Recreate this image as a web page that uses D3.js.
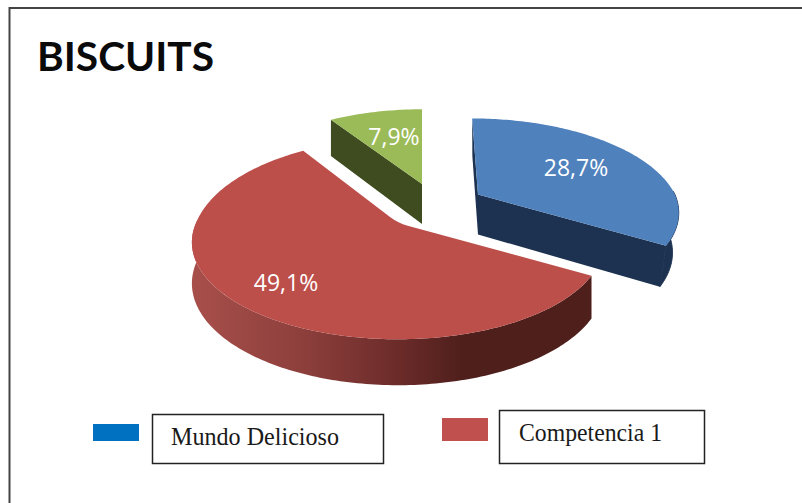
<!DOCTYPE html>
<html>
<head>
<meta charset="utf-8">
<title>BISCUITS</title>
<script src="https://cdn.jsdelivr.net/npm/d3@7"></script>
<style>
  html, body { margin: 0; padding: 0; background: #fff; }
  svg { display: block; }
</style>
</head>
<body>
<svg id="chart" width="802" height="503"></svg>
<script>
// Chart content
const chartTitle = "BISCUITS";
const sliceNames = ["Mundo Delicioso", "Competencia 1", "Otros"];
const sliceShares = [28.7, 49.1, 7.9];
const legendNames = ["Mundo Delicioso", "Competencia 1"];

// Slice styling, in slice order
const topColors = ["#4f81bd", "#bd4f4b", "#9bbb59"];
const cutColors = ["#1d3250", "#4f1f1c", "#3f4c1f"];
const legendColors = ["#0070c0", "#c0504d"];

// Where each pulled-out slice has its tip on the page, and its size
const sliceTips = [[478, 194.5], [398, 223], [422, 184]];
const sliceScale = [0.97, 0.995, 0.95];
const backLean = [6, 0, 0];
const backStretch = [1, 1.08, 1];
const wallTaper = [0.97, 1, 1];
const tipRounding = [0, 10, 0];
const labelSpots = [[576, 167], [286, 282], [394, 136]];

const svg = d3.select("#chart");

// Perspective of the tilted pie: nearer points spread out and drop lower
const spreadX = 203, spreadY = 93.6, tilt = 0.2, wallHeight = 40;

function project(i, angle, radius, lifted) {
  const tip = sliceTips[i];
  const scale = sliceScale[i] * (lifted ? 1 : wallTaper[i]);
  const u = Math.sin(angle) * radius * scale;
  const v = -Math.cos(angle) * radius * scale;
  const w = 1 - tilt * v;
  const drop = lifted ? 0 : wallHeight / (1 - 0.13 * v);
  const stretch = v < 0 ? backStretch[i] : 1;
  return [tip[0] + spreadX * u / w + backLean[i] * Math.min(v, 0),
          tip[1] + spreadY * stretch * v / w + drop];
}

const arcs = d3.pie().sort(null).value(d => d)(sliceShares);
const poly = d3.line();
const degree = Math.PI / 180;

function rimAngles(a0, a1) {
  const steps = Math.max(2, Math.ceil((a1 - a0) / degree));
  return d3.range(steps + 1).map(i => a0 + (a1 - a0) * i / steps);
}

// Which cut faces and how much of the outer wall turn towards the viewer
const visibleCuts = [a => [a.startAngle, a.endAngle], () => [], a => [a.startAngle]];
const wallSpans = [a => [88 * degree, a.endAngle], a => [a.startAngle, 272 * degree], () => null];

// Shading along the outer wall of the large slice
const defs = svg.append("defs");
const wallShade = defs.append("linearGradient")
  .attr("id", "wallShade")
  .attr("gradientUnits", "userSpaceOnUse")
  .attr("x1", 192).attr("x2", 590).attr("y1", 0).attr("y2", 0);
[[0, "#a84f4b"], [0.28, "#8d3f3c"], [0.52, "#6b2b29"], [0.68, "#4f1f1c"], [1, "#4f1f1c"]]
  .forEach(([o, c]) => wallShade.append("stop").attr("offset", o).attr("stop-color", c));

// Frame, open on the right and at the bottom
svg.append("path")
  .attr("d", "M9.5,503V8H802")
  .attr("fill", "none")
  .attr("stroke", "#444")
  .attr("stroke-width", 2);

svg.append("text")
  .attr("x", 37).attr("y", 71)
  .attr("font-family", "Lato, 'Open Sans', sans-serif")
  .attr("font-weight", 700)
  .attr("font-size", 40)
  .attr("textLength", 177)
  .attr("lengthAdjust", "spacingAndGlyphs")
  .attr("fill", "#0a0a0a")
  .text(chartTitle);

const drawOrder = [2, 0, 1];
const pie = svg.append("g");

drawOrder.forEach(i => {
  const a = arcs[i];
  const g = pie.append("g").attr("class", "slice").attr("data-name", sliceNames[i]);
  const top = (ang, r) => project(i, ang, r, true);
  const low = (ang, r) => project(i, ang, r, false);

  const span = wallSpans[i](a);
  if (span) {
    const rim = rimAngles(span[0], span[1]);
    const wall = i === 1 ? "url(#wallShade)" : cutColors[i];
    g.append("path")
      .attr("d", poly([...rim.map(t => top(t, 1)), ...rim.slice().reverse().map(t => low(t, 1))]) + "Z")
      .attr("fill", wall)
      .attr("stroke", i === 1 ? "none" : wall)
      .attr("stroke-width", 1);
  }

  visibleCuts[i](a).forEach(ang => {
    g.append("path")
      .attr("d", poly([top(ang, 0), top(ang, 1), low(ang, 1), low(ang, 0)]) + "Z")
      .attr("fill", cutColors[i]);
  });

  // Top surface
  const rim = rimAngles(a.startAngle, a.endAngle).map(t => top(t, 1));
  const apex = top(0, 0);
  const round = tipRounding[i];
  let d = poly(rim);
  if (round) {
    const lerp = (p, q, t) => p[0] + (q[0] - p[0]) * t + "," + (p[1] + (q[1] - p[1]) * t);
    const first = rim[0], last = rim[rim.length - 1];
    const lenA = Math.hypot(last[0] - apex[0], last[1] - apex[1]);
    const lenB = Math.hypot(first[0] - apex[0], first[1] - apex[1]);
    d += "L" + lerp(apex, last, round / lenA) +
         "Q" + apex[0] + "," + apex[1] + " " + lerp(apex, first, round / lenB) + "Z";
  } else {
    d += "L" + apex[0] + "," + apex[1] + "Z";
  }
  g.append("path").attr("d", d).attr("fill", topColors[i]);
});

// Value labels with a decimal comma
const shareFormat = d3.formatLocale({ decimal: ",", thousands: ".", grouping: [3], currency: ["", ""] }).format(".1f");
pie.selectAll("text.share")
  .data(sliceShares)
  .join("text")
  .attr("class", "share")
  .attr("x", (d, i) => labelSpots[i][0])
  .attr("y", (d, i) => labelSpots[i][1])
  .attr("text-anchor", "middle")
  .attr("dominant-baseline", "central")
  .attr("font-family", "'Open Sans', sans-serif")
  .attr("font-size", 23)
  .attr("fill", "#fff")
  .text(d => shareFormat(d) + "%");

// Legend: swatch beside a boxed name
const legendSwatches = [[93, 424, 46, 17], [442, 418, 46, 23]];
const legendBoxes = [[152, 414, 231, 49], [499, 410, 205, 53]];
const legendText = [[171, 445], [519, 441]];

const legend = svg.append("g");
legendNames.forEach((name, i) => {
  const sw = legendSwatches[i], box = legendBoxes[i], t = legendText[i];
  legend.append("rect")
    .attr("x", sw[0]).attr("y", sw[1]).attr("width", sw[2]).attr("height", sw[3])
    .attr("fill", legendColors[i]);
  legend.append("rect")
    .attr("x", box[0] + 0.5).attr("y", box[1] + 0.5).attr("width", box[2]).attr("height", box[3])
    .attr("fill", "#fff").attr("stroke", "#222").attr("stroke-width", 1.5);
  legend.append("text")
    .attr("x", t[0]).attr("y", t[1])
    .attr("font-family", "'Liberation Serif', serif")
    .attr("font-size", 25)
    .attr("textLength", i === 0 ? 168 : 143)
    .attr("lengthAdjust", "spacingAndGlyphs")
    .attr("fill", "#1a1a1a")
    .text(name);
});
</script>
</body>
</html>
